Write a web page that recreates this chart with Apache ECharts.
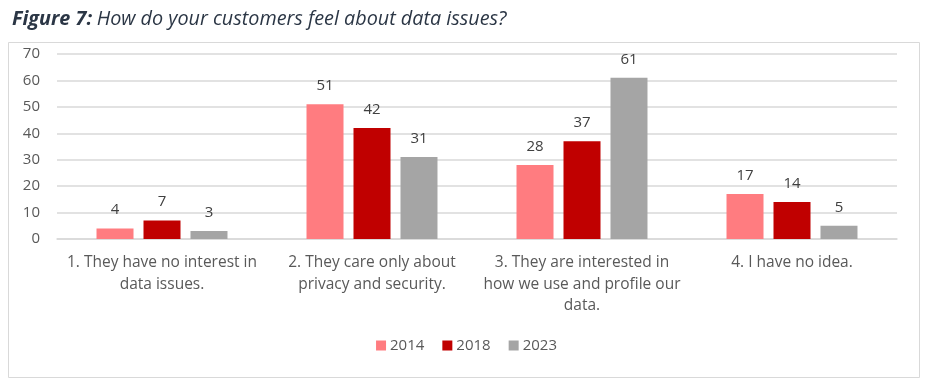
<!DOCTYPE html>
<html><head><meta charset="utf-8">
<script src="https://cdn.jsdelivr.net/npm/echarts@6/dist/echarts.min.js"></script>
<style>html,body{margin:0;padding:0;background:#fff}#c{width:933px;height:391px}</style>
</head><body><div id="c"></div>
<script>
var categories = [
  "1. They have no interest in\ndata issues.",
  "2. They care only about\nprivacy and security.",
  "3. They are interested in\nhow we use and profile our\ndata.",
  "4. I have no idea."
];
var seriesNames = ["2014", "2018", "2023"];
var values2014 = [4, 51, 28, 17];
var values2018 = [7, 42, 37, 14];
var values2023 = [3, 31, 61, 5];
var yTicks = [0, 10, 20, 30, 40, 50, 60, 70];
var colors = ["#ff7c80", "#c00000", "#a5a5a5"];
var FONT = "Open Sans";

var chart = echarts.init(document.getElementById('c'));
var data = [values2014, values2018, values2023];
chart.setOption({
  animation: false,
  textStyle: {fontFamily: FONT},
  title: {
    left: 7, top: 4,
    text: "{b|Figure 7:} {i|How do your customers feel about data issues?}",
    textStyle: {
      fontWeight: 'normal',
      rich: {
        b: {fontFamily: FONT, fontSize: 19.8, fontWeight: 'bold', fontStyle: 'italic', color: '#2b3645'},
        i: {fontFamily: FONT, fontSize: 19.8, fontWeight: 'normal', fontStyle: 'italic', color: '#2b3645'}
      }
    }
  },
  graphic: [{
    type: 'rect', left: 8, top: 42, z: -1,
    shape: {width: 911, height: 335},
    style: {fill: '#fff', stroke: '#d9d9d9', lineWidth: 1}
  }],
  legend: {
    data: seriesNames,
    bottom: 33, left: 'center',
    itemWidth: 10, itemHeight: 10, itemGap: 18,
    icon: 'rect',
    textStyle: {fontFamily: FONT, fontSize: 15, color: '#595959', padding: [0,0,0,-1]}
  },
  grid: {left: 57, right: 36, top: 54, bottom: 152},
  xAxis: {
    type: 'category', data: categories,
    axisLine: {lineStyle: {color: '#d9d9d9', width: 1.5}},
    axisTick: {show: false},
    axisLabel: {fontFamily: FONT, fontSize: 15.5, color: '#595959', lineHeight: 21.5, margin: 13, interval: 0}
  },
  yAxis: {
    type: 'value', min: yTicks[0], max: yTicks[yTicks.length-1], interval: 10,
    axisLine: {show: false}, axisTick: {show: false},
    splitLine: {lineStyle: {color: '#d9d9d9', width: 1.5}},
    axisLabel: {fontFamily: FONT, fontSize: 15, color: '#595959', margin: 17}
  },
  series: seriesNames.map(function(n, i){
    return {
      name: n, type: 'bar', data: data[i],
      barWidth: 37, barGap: '27%', barCategoryGap: '37.6%',
      itemStyle: {color: colors[i]},
      label: {show: true, position: 'top', distance: 11, fontFamily: FONT, fontSize: 15, color: '#404040'}
    };
  })
});
</script></body></html>
